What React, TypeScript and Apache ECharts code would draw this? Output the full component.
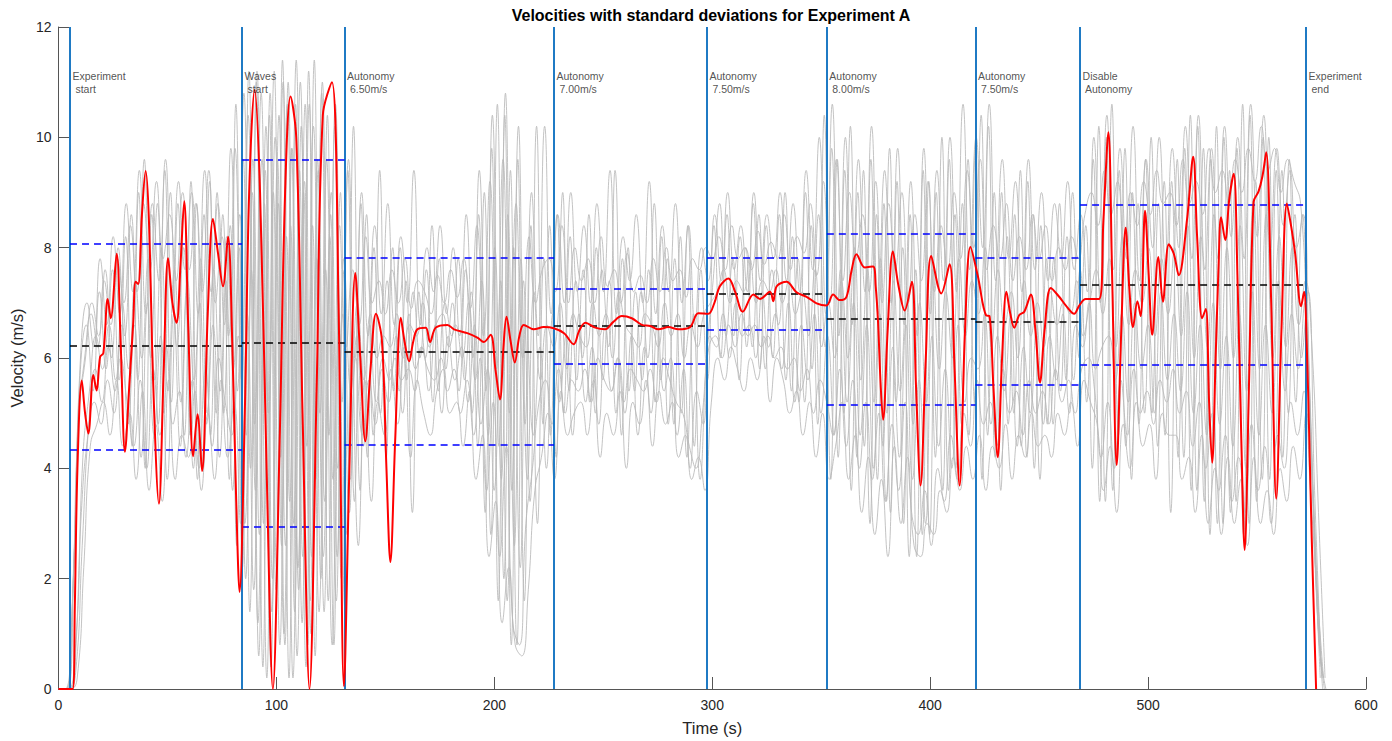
import React, { useEffect, useRef } from "react";
import * as echarts from "echarts";

const chartTitle = "Velocities with standard deviations for Experiment A";
const xAxisName = "Time (s)";
const yAxisName = "Velocity (m/s)";

const xTicks = [0, 100, 200, 300, 400, 500, 600];
const yTicks = [0, 2, 4, 6, 8, 10, 12];

const eventTimes = [5.3, 84.2, 131.3, 227.4, 297.6, 352.6, 420.8, 468.8, 572.5];
const eventLabels = [
  "Experiment\n start",
  "Waves\n start",
  "Autonomy\n 6.50m/s",
  "Autonomy\n 7.00m/s",
  "Autonomy\n 7.50m/s",
  "Autonomy\n 8.00m/s",
  "Autonomy\n 7.50m/s",
  "Disable\n Autonomy",
  "Experiment\n end",
];

const segmentMeans = [6.22, 6.28, 6.11, 6.58, 7.17, 6.71, 6.66, 7.33];
const segmentUpper = [8.08, 9.59, 7.81, 7.25, 7.81, 8.26, 7.81, 8.77];
const segmentLower = [4.34, 2.95, 4.42, 5.9, 6.52, 5.16, 5.51, 5.88];

const redTime = [
  0, 6.5, 7.5, 8.7, 10.7, 12.2, 13.7, 16.0, 17.5, 19.1, 20.6, 22.6, 24.0, 26.7, 28.6, 30.5, 32.5, 34.3, 35.4, 36.6,
  38.3, 40.0, 41.5, 43.5, 46.1, 48.3, 50.3, 52.3, 54.2, 56.0, 57.7, 59.6, 61.8, 63.8, 65.9, 68.5, 70.9, 73.2, 75.5, 77.8,
  79.8, 81.5, 83.1, 85.5, 87.5, 90.0, 92.5, 95.5, 98.4, 101.5, 104.0, 106.5, 109.1, 112.0, 115.2, 118.5, 121.3, 125.5, 128.5, 131.0,
  133.5, 136.2, 138.5, 140.8, 143.2, 145.7, 148.4, 150.5, 152.3, 154.5, 157.1, 158.8, 160.9, 162.8, 164.7, 168.5, 170.5, 173.1, 178.5, 181.5,
  187.6, 192.2, 195.2, 198.3, 200.5, 202.6, 204.2, 205.6, 207.5, 209.4, 211.5, 213.5, 218.1, 222.7, 227.3, 232.0, 236.4, 239.0, 241.8, 246.3,
  250.9, 254.5, 258.5, 263.1, 267.7, 271.5, 275.3, 279.9, 284.5, 289.8, 293.6, 298.2, 301.0, 303.5, 307.4, 310.5, 314.0, 318.9, 321.9, 326.5,
  328.0, 329.6, 334.1, 338.7, 343.3, 347.9, 352.4, 355.5, 358.5, 361.6, 364.0, 366.2, 370.0, 373.8, 375.0, 376.1, 377.3, 378.4, 380.5, 382.9,
  385.5, 388.3, 391.6, 393.5, 395.6, 398.0, 400.5, 405.1, 408.9, 411.2, 413.5, 416.0, 418.5, 421.8, 425.7, 427.2, 429.0, 431.0, 433.0, 435.0,
  436.8, 438.6, 440.9, 443.2, 446.2, 448.3, 450.4, 452.5, 455.4, 459.2, 462.3, 466.1, 468.4, 471.4, 477.5, 479.5, 481.8, 483.5, 485.6, 487.7,
  489.7, 491.5, 493.1, 495.1, 496.6, 498.6, 500.3, 501.9, 504.7, 506.8, 509.5, 511.8, 514.1, 517.9, 520.7, 522.5, 524.8, 526.5, 528.0, 529.4,
  531.0, 532.4, 533.5, 535.4, 537.3, 539.3, 541.0, 542.8, 544.3, 546.3, 548.4, 550.7, 552.5, 554.2, 556.5, 558.8, 561.2, 563.7, 565.6, 567.5,
  570.2, 571.6, 572.8, 574.0, 575.1, 577.1,
];
const redValue = [
  0, 0, 1.5, 4.0, 5.59, 5.0, 4.63, 5.69, 5.41, 6.02, 6.09, 7.07, 6.72, 7.89, 6.2, 4.3, 5.5, 6.64, 7.38, 7.34,
  8.6, 9.39, 8.5, 5.5, 3.36, 5.8, 7.81, 7.0, 6.64, 7.7, 8.84, 6.5, 4.22, 4.98, 3.95, 6.8, 8.52, 7.9, 7.3, 8.2,
  6.2, 3.5, 1.76, 5.0, 9.0, 10.86, 9.0, 4.0, 0.0, 4.5, 9.0, 10.74, 10.0, 5.0, 0.0, 5.5, 10.4, 11.0, 7.0, 0.05,
  4.0, 7.54, 6.0, 4.49, 5.8, 6.8, 6.33, 4.0, 2.3, 4.5, 6.73, 6.3, 5.94, 6.3, 6.52, 6.55, 6.29, 6.55, 6.6, 6.52,
  6.45, 6.37, 6.29, 6.42, 5.8, 5.25, 6.2, 6.75, 6.3, 5.92, 6.4, 6.6, 6.52, 6.56, 6.54, 6.45, 6.25, 6.5, 6.64, 6.55,
  6.52, 6.65, 6.76, 6.72, 6.6, 6.58, 6.52, 6.56, 6.52, 6.56, 6.81, 6.8, 7.0, 7.3, 7.44, 7.2, 6.84, 7.15, 7.07, 7.2,
  7.03, 7.3, 7.38, 7.19, 7.11, 6.99, 6.95, 7.15, 7.05, 7.11, 7.6, 7.88, 7.64, 7.66, 7.3, 6.64, 5.5, 4.88, 6.5, 7.93,
  7.3, 6.86, 7.38, 5.5, 3.69, 6.0, 7.85, 7.17, 7.7, 5.8, 3.69, 6.5, 8.01, 7.5, 6.77, 6.76, 5.5, 4.2, 6.0, 7.2,
  6.8, 6.55, 6.78, 6.84, 7.15, 6.5, 5.56, 6.5, 7.27, 7.11, 6.95, 6.8, 6.95, 7.07, 7.07, 8.5, 10.09, 7.5, 4.06, 6.5,
  8.36, 7.2, 6.56, 7.03, 6.76, 8.67, 7.5, 6.42, 7.83, 7.02, 8.06, 7.89, 7.5, 8.52, 9.65, 8.2, 6.72, 6.89, 5.2, 4.1,
  6.0, 7.73, 8.55, 8.14, 8.9, 9.34, 7.5, 4.5, 2.52, 5.5, 8.83, 9.02, 9.3, 9.73, 7.0, 3.45, 6.5, 8.8, 8.4, 7.89,
  6.94, 7.2, 6.25, 4.5, 2.73, 0,
];

const grayStep = 3;
const grayOffsets = [0, 1.5, 0.8, 2.2, 0.4, 1.9, 1.1, 2.6];
const grayTrace1 = [
  0, 0, 1.2, 4.8, 6.0, 6.8, 6.2, 7.4, 6.6, 7.8,
  7.0, 8.4, 7.2, 8.8, 7.6, 9.2, 7.8, 8.6, 7.4, 9.0,
  7.6, 8.8, 7.2, 9.4, 7.0, 8.2, 6.4, 9.8, 5.6, 10.4,
  4.8, 10.8, 3.6, 11.2, 4.2, 10.6, 3.0, 11.0, 4.4, 10.2,
  5.0, 9.6, 3.8, 8.4, 6.2, 7.6, 6.6, 8.2, 7.0, 7.4,
  6.8, 7.6, 7.0, 7.8, 6.9, 7.4, 7.2, 6.8, 7.5, 7.0,
  7.6, 7.1, 7.8, 6.9, 8.4, 6.4, 9.2, 5.8, 9.6, 5.0,
  8.8, 6.0, 8.2, 7.0, 7.6, 7.8, 7.2, 8.4, 7.0, 8.0,
  7.4, 7.8, 7.0, 8.2, 7.3, 7.6, 7.0, 7.9, 7.2, 7.5,
  7.0, 7.8, 7.2, 8.0, 7.4, 7.6, 7.1, 7.8, 7.6, 8.0,
  7.8, 8.2, 7.6, 8.4, 7.8, 8.0, 7.6, 8.3, 7.7, 8.1,
  7.8, 8.6, 7.6, 8.2, 7.9, 8.8, 7.5, 9.2, 7.0, 9.6,
  7.4, 9.0, 7.8, 8.6, 7.2, 9.2, 7.0, 8.8, 7.6, 9.0,
  7.0, 8.6, 7.4, 9.2, 7.2, 8.4, 7.6, 9.0, 7.8, 9.4,
  8.0, 9.6, 7.6, 8.4, 7.8, 8.8, 7.4, 8.2, 7.6, 8.6,
  7.8, 8.4, 7.4, 8.0, 7.6, 8.2, 7.8, 8.6, 9.0, 8.4,
  9.4, 8.6, 9.2, 8.0, 9.0, 8.4, 9.2, 8.6, 9.4, 8.8,
  9.0, 8.4, 9.6, 8.8, 9.2, 8.6, 9.8, 9.0, 9.4, 8.8,
  9.6, 9.0, 9.8, 9.2, 10.2, 9.4, 9.8, 9.0, 9.6, 9.2,
  8.8, 6.4, 3.0, 0.2,
];
const grayTrace2 = [
  0, 0, 0.6, 3.2, 4.6, 5.2, 4.8, 5.6, 5.0, 6.0,
  5.2, 4.4, 5.6, 4.0, 5.8, 4.6, 6.2, 4.8, 5.4, 4.2,
  5.6, 4.0, 5.8, 4.4, 6.0, 5.2, 4.6, 6.4, 3.0, 7.6,
  1.2, 8.8, 0.4, 9.6, 1.0, 8.4, 0.6, 9.0, 1.6, 7.8,
  2.4, 8.2, 1.6, 6.8, 3.2, 6.0, 4.6, 5.6, 4.8, 5.8,
  5.2, 6.0, 5.6, 5.8, 5.4, 6.2, 5.8, 5.6, 6.0, 5.4,
  5.8, 5.0, 5.6, 4.6, 6.0, 3.6, 5.2, 2.4, 4.4, 1.2,
  0.8, 3.0, 4.0, 5.2, 5.6, 4.8, 5.8, 5.0, 5.6, 5.4,
  5.8, 5.2, 6.0, 5.6, 5.4, 6.0, 5.2, 5.8, 5.6, 5.4,
  5.8, 5.2, 6.0, 5.6, 5.2, 5.0, 4.4, 4.0, 5.0, 6.2,
  6.4, 6.0, 6.6, 6.2, 6.8, 6.4, 6.6, 6.2, 6.4, 6.0,
  6.2, 5.8, 6.0, 5.4, 5.8, 5.0, 5.6, 5.2, 4.6, 5.8,
  4.4, 5.6, 4.0, 5.2, 3.8, 5.0, 3.4, 4.8, 3.6, 5.2,
  3.2, 2.8, 3.6, 2.6, 4.0, 3.4, 4.6, 3.8, 5.0, 4.4,
  5.6, 4.8, 5.2, 4.4, 5.8, 5.0, 5.4, 4.6, 5.6, 5.0,
  5.4, 4.8, 5.8, 5.2, 5.6, 5.0, 5.8, 6.0, 5.4, 4.2,
  5.2, 4.0, 5.6, 4.6, 5.8, 5.0, 5.4, 4.8, 5.6, 5.2,
  5.8, 5.0, 5.4, 4.4, 5.2, 4.0, 5.0, 3.6, 4.6, 3.4,
  4.2, 3.2, 4.8, 3.6, 4.4, 3.0, 4.6, 4.0, 5.2, 4.6,
  5.4, 3.6, 1.8, 0.2,
];
const grayTrace3 = [
  0, 0, 2.0, 5.6, 6.6, 5.4, 7.2, 5.8, 7.6, 5.6,
  8.2, 4.4, 9.0, 4.0, 8.6, 4.8, 9.4, 5.2, 8.8, 4.6,
  9.2, 3.8, 8.6, 4.6, 9.0, 5.0, 8.4, 2.6, 9.6, 1.4,
  11.0, 0.4, 10.4, 1.8, 11.4, 0.2, 10.6, 1.2, 11.2, 0.6,
  10.8, 1.6, 10.2, 2.0, 9.4, 3.4, 8.8, 4.2, 8.0, 5.0,
  7.4, 5.4, 8.0, 5.6, 7.2, 6.0, 7.6, 5.2, 7.8, 5.8,
  7.0, 5.4, 7.6, 5.0, 8.6, 3.2, 9.8, 1.6, 10.4, 0.8,
  9.6, 1.6, 8.4, 3.0, 7.8, 4.6, 8.6, 5.0, 8.2, 5.6,
  7.6, 5.2, 8.0, 5.6, 7.4, 5.0, 7.8, 5.4, 7.2, 5.6,
  7.6, 5.2, 8.2, 4.8, 7.8, 5.0, 8.4, 4.4, 7.6, 5.6,
  8.4, 6.0, 8.6, 6.4, 8.2, 6.2, 8.8, 5.8, 8.4, 6.0,
  8.6, 5.6, 8.2, 5.2, 9.0, 5.8, 8.6, 6.2, 9.8, 4.2,
  9.4, 3.6, 9.0, 4.4, 9.6, 3.8, 8.8, 3.2, 9.2, 3.0,
  8.6, 2.4, 9.4, 2.8, 9.0, 3.6, 9.6, 4.0, 8.8, 4.6,
  9.8, 3.8, 10.2, 4.2, 9.0, 4.8, 8.6, 4.4, 9.2, 4.0,
  8.4, 4.8, 7.8, 5.4, 8.2, 5.6, 7.6, 5.2, 9.6, 3.4,
  10.0, 3.6, 9.4, 4.4, 9.0, 4.8, 9.6, 5.0, 8.8, 4.6,
  9.2, 4.2, 9.8, 3.6, 10.2, 3.4, 9.6, 3.0, 10.0, 3.2,
  9.8, 2.8, 10.4, 3.4, 10.0, 3.8, 9.4, 4.2, 9.6, 5.2,
  8.6, 5.8, 2.6, 0.2,
];
const grayTrace4 = [
  0, 0, 0.9, 4.2, 5.4, 6.4, 5.8, 6.6, 5.6, 7.0,
  5.8, 7.4, 6.0, 7.8, 5.6, 8.0, 5.4, 7.6, 5.2, 7.4,
  5.6, 7.8, 5.0, 7.6, 5.4, 8.2, 5.8, 8.6, 4.6, 9.6,
  2.8, 10.2, 2.0, 10.4, 2.6, 9.8, 1.8, 10.6, 2.4, 9.4,
  3.4, 9.0, 4.0, 7.6, 5.4, 7.0, 5.6, 6.8, 6.0, 6.4,
  6.2, 6.8, 6.0, 6.6, 6.4, 7.0, 6.2, 6.6, 6.8, 6.2,
  6.6, 6.0, 7.0, 5.6, 7.4, 4.6, 8.0, 3.8, 8.6, 2.6,
  7.8, 3.8, 7.2, 5.6, 6.6, 6.2, 7.0, 5.8, 6.8, 6.4,
  6.2, 7.0, 6.4, 6.8, 6.0, 7.2, 6.6, 6.4, 6.2, 6.8,
  6.6, 6.2, 7.0, 6.4, 6.8, 6.0, 6.6, 6.2, 6.8, 7.0,
  7.2, 7.6, 7.0, 7.4, 7.2, 7.8, 7.0, 7.4, 7.2, 7.6,
  7.0, 7.4, 6.8, 7.2, 6.4, 7.6, 6.2, 7.0, 6.0, 7.4,
  6.0, 8.0, 5.6, 7.6, 5.2, 7.8, 5.0, 7.4, 5.4, 7.2,
  4.8, 7.0, 5.2, 7.6, 5.8, 7.2, 6.0, 7.8, 6.4, 7.4,
  6.8, 8.0, 6.2, 7.6, 6.6, 7.2, 6.0, 7.4, 6.4, 7.0,
  6.2, 7.2, 6.6, 7.0, 6.8, 7.4, 6.4, 7.0, 7.6, 6.8,
  7.8, 6.2, 8.2, 6.6, 7.6, 7.0, 8.0, 6.4, 7.8, 6.8,
  8.0, 6.4, 8.4, 6.0, 8.2, 6.2, 8.6, 5.8, 8.0, 6.0,
  8.4, 5.4, 8.8, 5.8, 8.6, 6.0, 8.2, 6.2, 8.0, 6.6,
  7.4, 6.2, 3.2, 0.2,
];
const grayTrace5 = [
  0, 0, 1.6, 5.0, 6.0, 7.0, 6.4, 7.6, 6.0, 8.0,
  6.4, 8.6, 5.6, 9.6, 6.0, 8.8, 5.0, 9.0, 6.2, 8.0,
  4.6, 8.8, 4.0, 9.2, 5.0, 8.6, 3.8, 10.6, 2.2, 11.2,
  3.6, 9.6, 5.0, 10.0, 2.6, 11.0, 1.4, 10.2, 0.8, 11.4,
  2.0, 10.4, 0.8, 9.0, 2.8, 10.2, 3.6, 8.6, 4.6, 9.4,
  4.2, 8.0, 5.4, 7.4, 3.2, 7.2, 6.0, 8.4, 5.4, 7.0,
  6.4, 7.8, 5.6, 7.2, 4.4, 9.0, 2.8, 10.6, 2.0, 9.4,
  0.8, 7.4, 3.4, 10.2, 4.8, 8.4, 4.2, 9.0, 5.4, 7.4,
  6.0, 8.6, 5.0, 7.6, 6.2, 9.4, 4.6, 8.0, 5.4, 7.2,
  6.0, 8.8, 5.6, 7.8, 4.8, 8.2, 4.2, 6.8, 3.8, 6.0,
  7.4, 8.8, 6.4, 7.8, 5.6, 8.0, 6.2, 8.6, 5.8, 7.6,
  6.6, 9.0, 5.4, 7.8, 5.2, 8.4, 4.8, 10.4, 3.8, 9.6,
  5.0, 10.2, 4.2, 9.4, 3.0, 8.6, 4.4, 9.8, 5.2, 8.0,
  2.4, 7.6, 2.8, 9.2, 4.2, 10.0, 3.6, 8.6, 4.8, 9.6,
  5.2, 10.4, 4.6, 9.0, 3.6, 8.2, 5.0, 9.4, 4.2, 8.6,
  3.8, 7.8, 4.8, 8.8, 5.6, 9.0, 6.0, 8.4, 4.0, 10.2,
  3.4, 10.6, 4.6, 9.8, 3.8, 8.8, 5.0, 10.0, 4.4, 9.2,
  3.2, 9.6, 4.2, 10.4, 3.6, 9.8, 2.8, 10.2, 3.0, 9.4,
  3.4, 10.6, 3.0, 9.2, 3.8, 10.0, 4.4, 9.4, 5.0, 8.6,
  6.0, 7.2, 3.6, 0.4,
];
const grayTrace6 = [
  0, 0, 0.3, 2.6, 4.8, 5.8, 5.2, 6.2, 5.4, 6.6,
  4.8, 6.6, 4.2, 7.0, 4.6, 6.4, 3.8, 6.8, 4.4, 7.2,
  4.0, 7.0, 4.8, 6.6, 4.2, 7.4, 3.6, 8.0, 2.0, 9.0,
  0.6, 9.4, 1.4, 8.8, 0.8, 9.8, 2.2, 9.2, 1.0, 9.6,
  1.4, 8.6, 2.4, 7.8, 3.8, 6.4, 4.4, 6.6, 5.2, 6.0,
  5.6, 6.4, 5.0, 6.8, 5.8, 6.2, 5.4, 6.6, 5.0, 6.4,
  5.6, 6.2, 5.2, 6.6, 4.8, 5.8, 3.6, 7.4, 1.6, 8.0,
  2.2, 6.6, 4.6, 6.2, 4.0, 6.8, 5.2, 6.4, 4.6, 6.8,
  5.2, 6.2, 4.8, 6.6, 5.4, 6.0, 5.0, 6.4, 4.6, 6.2,
  5.0, 6.6, 5.4, 6.0, 4.6, 5.8, 4.0, 5.4, 4.8, 6.4,
  6.2, 6.8, 6.0, 7.0, 6.4, 6.6, 6.0, 7.2, 6.2, 6.8,
  5.8, 7.0, 5.2, 6.6, 5.6, 6.8, 5.0, 6.4, 4.6, 7.6,
  5.2, 7.0, 4.6, 6.6, 4.0, 6.8, 3.4, 6.2, 4.2, 6.6,
  3.8, 5.6, 3.0, 6.4, 4.4, 5.8, 4.0, 6.6, 5.2, 6.0,
  5.8, 6.8, 4.8, 6.4, 5.4, 6.8, 4.4, 6.2, 5.0, 6.6,
  4.8, 6.4, 5.6, 6.8, 5.0, 6.6, 6.2, 7.0, 5.8, 6.2,
  6.4, 5.6, 6.8, 5.2, 7.0, 5.8, 6.6, 5.0, 7.2, 5.6,
  6.8, 5.4, 7.2, 5.0, 6.6, 4.6, 7.0, 4.8, 6.4, 4.4,
  6.8, 4.0, 7.2, 4.6, 6.6, 5.0, 7.4, 5.4, 6.8, 5.8,
  7.0, 4.4, 1.2, 0.0,
];
const grayTrace7 = [
  0, 0, 2.4, 6.0, 7.0, 6.2, 7.8, 6.6, 8.2, 6.8,
  8.8, 7.2, 9.4, 6.8, 8.8, 7.4, 9.6, 7.0, 9.2, 7.6,
  9.0, 6.8, 9.4, 7.2, 8.8, 6.6, 9.8, 5.4, 10.8, 4.0,
  11.2, 3.0, 10.8, 2.2, 11.0, 3.4, 11.4, 2.4, 10.6, 3.8,
  11.0, 4.6, 10.6, 5.2, 9.6, 6.0, 9.0, 6.4, 8.4, 6.8,
  8.8, 6.6, 8.2, 7.0, 9.4, 6.6, 8.0, 7.2, 8.4, 6.8,
  8.0, 6.4, 8.6, 6.0, 9.4, 5.4, 10.4, 4.4, 10.8, 3.6,
  10.2, 4.8, 9.0, 6.4, 10.2, 6.8, 8.6, 7.0, 9.0, 7.2,
  8.4, 7.0, 8.8, 7.2, 9.4, 6.8, 8.2, 7.4, 8.6, 7.0,
  9.2, 6.8, 8.4, 7.2, 8.8, 7.0, 8.4, 6.6, 8.0, 7.4,
  8.6, 7.4, 9.0, 7.6, 8.4, 7.2, 9.0, 7.4, 8.6, 7.8,
  9.0, 7.4, 8.8, 7.2, 9.4, 7.6, 10.0, 6.8, 10.6, 6.4,
  10.0, 6.6, 9.6, 7.2, 10.2, 6.8, 9.4, 7.0, 9.8, 6.6,
  9.2, 6.4, 9.8, 6.8, 9.4, 7.4, 10.0, 7.2, 10.6, 7.6,
  10.0, 8.0, 10.6, 7.4, 9.6, 7.8, 9.2, 7.2, 9.6, 7.6,
  9.0, 7.4, 8.8, 7.8, 9.2, 7.6, 8.6, 7.2, 10.0, 7.0,
  10.4, 7.6, 9.8, 7.8, 10.2, 7.4, 9.6, 8.0, 10.0, 7.6,
  9.8, 8.0, 10.2, 7.8, 10.4, 7.6, 9.8, 7.8, 10.2, 8.2,
  10.0, 7.8, 10.6, 8.2, 10.4, 8.0, 9.8, 8.4, 9.4, 8.0,
  8.6, 5.4, 2.0, 0.0,
];
const grayTrace8 = [
  0, 0, 0.2, 2.2, 4.4, 4.8, 5.2, 4.6, 5.6, 4.4,
  5.0, 3.8, 5.4, 3.6, 4.8, 3.4, 5.6, 3.8, 4.6, 4.2,
  5.4, 3.6, 5.0, 3.8, 5.6, 4.2, 5.2, 3.0, 6.8, 1.8,
  8.6, 0.2, 9.0, 0.8, 8.2, 0.2, 9.4, 0.4, 8.4, 1.4,
  7.6, 0.8, 6.8, 1.4, 6.2, 2.6, 5.6, 3.4, 5.2, 4.6,
  5.8, 4.8, 6.2, 4.2, 5.6, 5.0, 4.6, 5.4, 5.8, 5.0,
  5.2, 4.4, 5.4, 3.8, 4.6, 2.4, 3.4, 1.2, 2.2, 0.8,
  0.6, 1.8, 3.6, 4.2, 5.0, 3.8, 5.4, 4.6, 5.0, 5.2,
  4.6, 5.6, 4.2, 5.0, 4.6, 5.4, 4.0, 5.2, 4.8, 5.6,
  4.4, 5.4, 4.8, 5.2, 4.2, 4.6, 3.8, 4.2, 3.6, 5.2,
  6.0, 5.6, 6.2, 5.8, 5.4, 6.0, 5.6, 6.4, 5.2, 6.0,
  5.6, 5.0, 5.4, 4.6, 5.2, 4.2, 5.0, 3.8, 4.4, 5.2,
  3.8, 4.6, 3.2, 4.2, 2.8, 3.8, 2.4, 4.4, 3.0, 4.2,
  2.6, 2.4, 3.0, 2.8, 3.6, 3.2, 4.2, 3.6, 4.4, 3.8,
  4.6, 3.6, 4.4, 4.0, 4.8, 3.8, 4.6, 4.2, 5.0, 4.4,
  4.6, 4.2, 5.0, 4.6, 5.2, 4.4, 5.6, 5.2, 4.8, 3.6,
  4.4, 3.2, 4.8, 4.0, 5.2, 4.4, 4.8, 3.8, 5.0, 4.6,
  4.6, 3.8, 4.2, 3.2, 4.6, 3.0, 4.0, 2.8, 4.2, 3.0,
  3.8, 2.6, 4.2, 3.0, 3.6, 2.8, 4.0, 3.4, 4.4, 3.8,
  5.0, 3.6, 0.8, 0.0,
];
const grayTraces = [grayTrace1, grayTrace2, grayTrace3, grayTrace4, grayTrace5, grayTrace6, grayTrace7, grayTrace8];

const FONT = "'Liberation Sans', Arial, Helvetica, sans-serif";

export default function App() {
  const ref = useRef<HTMLDivElement>(null);
  useEffect(() => {
    if (!ref.current) return;
    const chart = echarts.init(ref.current, undefined, { renderer: "svg" });

    const graySeries = grayTraces.map((trace, k) => ({
      name: "trace" + k,
      type: "line",
      data: trace.map((v, i) => [grayOffsets[k] + i * grayStep, v]),
      showSymbol: false,
      smooth: 0.5,
      silent: true,
      z: 1,
      lineStyle: { color: "#b8b8b8", width: 1, opacity: 0.85 },
    }));

    const segStart = eventTimes.slice(0, segmentMeans.length);
    const segEnd = eventTimes.slice(1, segmentMeans.length + 1);
    const pairs = (vals: number[]) =>
      vals.map((v, i) => [{ coord: [segStart[i], v] }, { coord: [segEnd[i], v] }]);

    const option = {
      animation: false,
      grid: { left: 54, right: 26, top: 27, bottom: 48, containLabel: false },
      graphic: [
        {
          type: "text",
          x: 711,
          y: 15,
          style: {
            text: chartTitle,
            fill: "#000",
            font: `bold 16px ${FONT}`,
            textAlign: "center",
            textVerticalAlign: "middle",
          },
        },
      ],
      xAxis: {
        type: "value",
        min: xTicks[0],
        max: xTicks[xTicks.length - 1],
        interval: 100,
        name: xAxisName,
        nameLocation: "middle",
        nameGap: 30,
        nameTextStyle: { fontSize: 16.5, color: "#262626", fontFamily: FONT },
        axisLine: { show: true, lineStyle: { color: "#555", width: 1 } },
        axisTick: { show: true, inside: true, length: 12, lineStyle: { color: "#555" } },
        axisLabel: { fontSize: 14, color: "#262626", fontFamily: FONT, margin: 9 },
        splitLine: { show: false },
      },
      yAxis: {
        type: "value",
        min: yTicks[0],
        max: yTicks[yTicks.length - 1],
        interval: 2,
        name: yAxisName,
        nameLocation: "middle",
        nameGap: 29,
        nameTextStyle: { fontSize: 16.5, color: "#262626", fontFamily: FONT },
        axisLine: { show: true, lineStyle: { color: "#555", width: 1 } },
        axisTick: { show: true, inside: true, length: 12, lineStyle: { color: "#555" } },
        axisLabel: { fontSize: 14, color: "#262626", fontFamily: FONT, margin: 7 },
        splitLine: { show: false },
      },
      series: [
        ...graySeries,
        {
          name: "events",
          type: "line",
          data: [],
          z: 3,
          markLine: {
            silent: true,
            symbol: ["none", "none"],
            label: { show: false },
            lineStyle: { color: "#1f7ac4", width: 2, type: "solid" },
            data: eventTimes.map((t) => ({ xAxis: t })),
          },
        },
        {
          name: "std",
          type: "line",
          data: [],
          z: 4,
          markLine: {
            silent: true,
            symbol: ["none", "none"],
            label: { show: false },
            lineStyle: { color: "#0000ff", width: 1.5, type: [7, 5] },
            data: [...pairs(segmentUpper), ...pairs(segmentLower)],
          },
        },
        {
          name: "mean",
          type: "line",
          data: [],
          z: 4,
          markLine: {
            silent: true,
            symbol: ["none", "none"],
            label: { show: false },
            lineStyle: { color: "#000000", width: 1.5, type: [7, 5] },
            data: pairs(segmentMeans),
          },
        },
        {
          name: "red",
          type: "line",
          data: redTime.map((t, i) => [t, redValue[i]]),
          showSymbol: false,
          smooth: 0.35,
          z: 6,
          lineStyle: { color: "#ff0000", width: 2 },
        },
        {
          name: "labels",
          type: "scatter",
          data: eventTimes.map((t) => [t, 10.99]),
          symbolSize: 1,
          itemStyle: { color: "rgba(0,0,0,0)" },
          z: 7,
          silent: true,
          label: {
            show: true,
            position: "right",
            distance: 2,
            formatter: (p: any) => eventLabels[p.dataIndex],
            fontSize: 10.5,
            lineHeight: 12.5,
            color: "#262626",
            fontFamily: FONT,
          },
        },
      ],
    };
    chart.setOption(option as any);
    return () => chart.dispose();
  }, []);
  return (
    <div
      ref={ref}
      style={{ position: "fixed", left: 0, top: 0, width: 1392, height: 741, background: "#fff" }}
    />
  );
}
